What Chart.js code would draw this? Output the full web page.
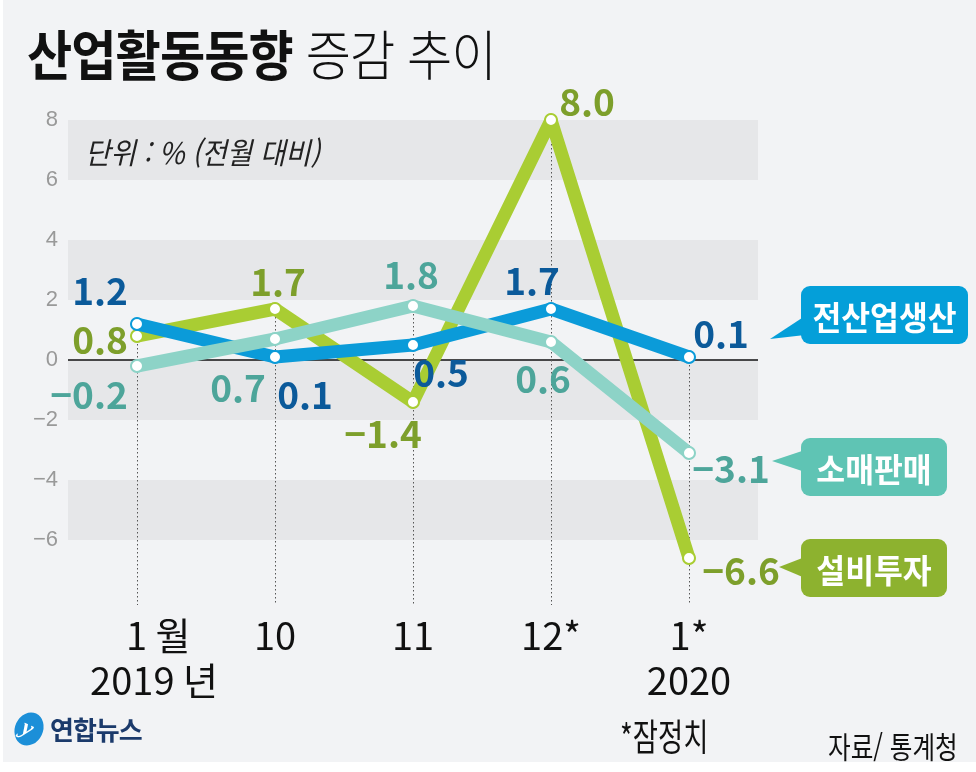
<!DOCTYPE html>
<html lang="ko">
<head>
<meta charset="utf-8">
<script src="https://cdn.jsdelivr.net/npm/chart.js@4.4.1/dist/chart.umd.min.js"></script>
<style>
  html, body { margin: 0; padding: 0; }
  body { width: 976px; height: 772px; background: #fff; position: relative; overflow: hidden; font-family: "Noto Sans CJK KR", sans-serif; }
  #bg { position: absolute; left: 3px; top: 0; width: 973px; height: 762px; background: #f2f3f5; }
  #chart { position: absolute; left: 0; top: 0; }
  .txt { position: absolute; white-space: nowrap; transform-origin: left center; }
  #title { left: 27px; top: 23px; font-size: 54px; line-height: 60px; color: #111; transform: scaleX(0.91); letter-spacing: -1px; }
  #title b { font-weight: 700; }
  #title span { font-weight: 300; }
  #unit { left: 85px; top: 131px; font-size: 30px; line-height: 40px; font-style: italic; color: #222; transform: scaleX(0.92); }
  #note { left: 620px; top: 714px; font-size: 37px; line-height: 42px; color: #111; transform: scaleX(0.74); }
  #source { left: 828px; top: 725px; font-size: 30px; line-height: 40px; color: #111; transform: scaleX(0.82); }
  #logo { left: 14px; top: 710px; }
  #logo .mark { position: absolute; left: 1px; top: 2px; width: 28px; height: 34px; border-radius: 50%; background: #1c8fd8; transform: rotate(25deg); }
  #logo .mark i { position: absolute; left: 7px; top: 3px; color: #fff; font-size: 24px; font-weight: 700; font-style: italic; font-family: "Liberation Serif", serif; }
  #logo .name { position: absolute; left: 36px; top: 0px; font-size: 26px; line-height: 38px; font-weight: 700; color: #1b3a6b; letter-spacing: -1px; }
</style>
</head>
<body>
<div id="bg"></div>
<canvas id="chart" width="976" height="772"></canvas>
<div id="title" class="txt"><b>산업활동동향</b> <span>증감 추이</span></div>
<div id="unit" class="txt">단위 : % (전월 대비)</div>
<div id="note" class="txt">*잠정치</div>
<div id="source" class="txt">자료/ 통계청</div>
<div id="logo" class="txt"><div class="mark"><i>y</i></div><div class="name">연합뉴스</div></div>
<script>
// data
const months = [['1 월', '2019 년'], '10', '11', '12*', ['1*', '2020']];
const production = [1.2, 0.1, 0.5, 1.7, 0.1];   // 전산업생산
const retail = [-0.2, 0.7, 1.8, 0.6, -3.1];     // 소매판매
const investment = [0.8, 1.7, -1.4, 8.0, -6.6]; // 설비투자
const seriesNames = ['전산업생산', '소매판매', '설비투자'];
const yMin = -6, yMax = 8, yStep = 2;

// value label offsets from each point (px)
const labelOffsets = [
    [[-37, -35], [30, 36], [28, 26], [-19, -30], [32, -25]],
    [[-48, 27], [-37, 47], [-2, -33], [-8, 35], [42, 14]],
    [[-37, 2], [3, -29], [-30, 30], [36, -20], [52, 11]]
];
const lineColors = ['#0b9bd9', '#8dd3c7', '#a9cd33'];
const labelColors = ['#0b5a9a', '#4da59a', '#7d9f2b'];
const badgeColors = ['#049fd9', '#5fc4b4', '#8db22f'];

const NARROW = '"Liberation Sans Narrow", "Noto Sans CJK KR", sans-serif';
const fmt = v => v.toFixed(1).replace('-', '\u2212');

// background bands, zero line, drop lines
const bandsPlugin = {
    id: 'bands',
    beforeDatasetsDraw(chart) {
        const {ctx, chartArea: a, scales: {x, y}} = chart;
        ctx.save();
        ctx.fillStyle = '#e6e7e9';
        for (let v = yMax; v - yStep >= yMin; v -= 2 * yStep) {
            const t = y.getPixelForValue(v), b = y.getPixelForValue(v - yStep);
            ctx.fillRect(a.left, t, a.right - a.left, b - t);
        }
        ctx.strokeStyle = '#111';
        ctx.lineWidth = 1.5;
        ctx.beginPath();
        ctx.moveTo(a.left, y.getPixelForValue(0));
        ctx.lineTo(a.right, y.getPixelForValue(0));
        ctx.stroke();

        ctx.strokeStyle = '#555';
        ctx.lineWidth = 1;
        ctx.setLineDash([1.5, 2.5]);
        const bottom = y.getPixelForValue(yMin) + 65;
        months.forEach((m, i) => {
            const top = y.getPixelForValue(Math.max(production[i], retail[i], investment[i]));
            const px = Math.round(x.getPixelForValue(i)) + 0.5;
            ctx.beginPath();
            ctx.moveTo(px, top);
            ctx.lineTo(px, bottom);
            ctx.stroke();
        });
        ctx.restore();
    }
};

// value labels + legend badges
const labelsPlugin = {
    id: 'valueLabels',
    afterDatasetsDraw(chart) {
        const ctx = chart.ctx;
        ctx.save();
        ctx.font = 'bold 37px ' + NARROW;
        ctx.textAlign = 'center';
        ctx.textBaseline = 'middle';
        chart.data.datasets.forEach((ds, d) => {
            const meta = chart.getDatasetMeta(d);
            const s = ds.seriesIndex;
            meta.data.forEach((pt, i) => {
                ctx.fillStyle = labelColors[s];
                ctx.fillText(fmt(ds.data[i]), pt.x + labelOffsets[s][i][0], pt.y + labelOffsets[s][i][1] + 2);
            });
        });

        const badges = [
            {box: [801, 286, 167, 58], tip: [770, 339], base: [316, 335]},
            {box: [801, 438, 146, 58], tip: [772, 461], base: [450, 472]},
            {box: [801, 539, 146, 58], tip: [779, 567], base: [557, 578]}
        ];
        badges.forEach((b, s) => {
            const [bx, by, bw, bh] = b.box;
            ctx.fillStyle = badgeColors[s];
            ctx.beginPath();
            ctx.moveTo(b.tip[0], b.tip[1]);
            ctx.lineTo(bx + 4, b.base[0]);
            ctx.lineTo(bx + 4, b.base[1]);
            ctx.closePath();
            ctx.fill();
            ctx.beginPath();
            ctx.roundRect(bx, by, bw, bh, 9);
            ctx.fill();
            ctx.save();
            ctx.translate(bx + bw / 2, by + bh / 2 + 2);
            ctx.scale(0.95, 1);
            ctx.fillStyle = '#fff';
            ctx.font = 'bold 33px "Noto Sans CJK KR", sans-serif';
            ctx.fillText(seriesNames[s], 0, 0);
            ctx.restore();
        });
        ctx.restore();
    }
};

function lineSet(data, s, order) {
    return {
        data: data,
        seriesIndex: s,
        order: order,
        borderColor: lineColors[s],
        borderWidth: 13,
        borderJoinStyle: 'round',
        borderCapStyle: 'round',
        pointRadius: 6,
        pointBackgroundColor: '#fff',
        pointBorderColor: lineColors[s],
        pointBorderWidth: 2,
        tension: 0,
        clip: false
    };
}

const ctx = document.getElementById('chart').getContext('2d');
const chart = new Chart(ctx, {
    type: 'line',
    data: {
        labels: months,
        datasets: [
            lineSet(retail, 1, 0),
            lineSet(production, 0, 1),
            lineSet(investment, 2, 2)
        ]
    },
    options: {
        responsive: false,
        devicePixelRatio: 1,
        animation: false,
        // y scale runs one unit below the last tick so the -6.6 point stays inside the area
        layout: { autoPadding: false, padding: { left: 0, top: 120, right: 218, bottom: 0 } },
        plugins: { legend: { display: false }, tooltip: { enabled: false } },
        scales: {
            x: {
                offset: true,
                grid: { display: false, drawTicks: false },
                border: { display: false },
                afterFit: s => { s.height = 202; s.paddingLeft = 0; s.paddingRight = 0; },
                ticks: {
                    padding: 44,
                    color: '#111',
                    maxRotation: 0,
                    autoSkip: false,
                    font: { family: NARROW, size: 38, lineHeight: 1.16 },
                    callback: (v, i) => {
                        const l = months[i];
                        if (i === 0) return ['     ' + l[0], '    ' + l[1]];
                        return l;
                    }
                }
            },
            y: {
                min: yMin - 1,
                max: yMax,
                grid: { display: false, drawTicks: false },
                border: { display: false },
                afterFit: s => { s.width = 68; s.paddingTop = 0; s.paddingBottom = 0; },
                ticks: {
                    stepSize: yStep,
                    padding: 10,
                    color: '#999',
                    font: { family: '"Liberation Sans", sans-serif', size: 22 },
                    callback: v => v < yMin ? '' : String(v).replace('-', '\u2212')
                }
            }
        }
    },
    plugins: [bandsPlugin, labelsPlugin]
});
</script>
</body>
</html>
